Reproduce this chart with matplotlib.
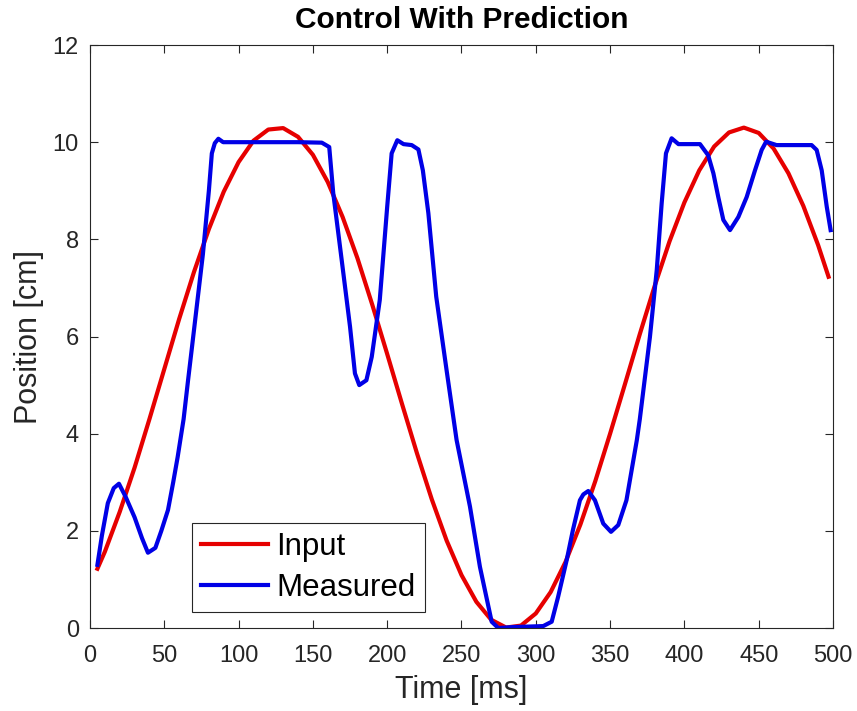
import numpy as np
import matplotlib
matplotlib.use('Agg')
from matplotlib import pyplot as plt

plt.rcParams['font.family'] = ['Liberation Sans', 'DejaVu Sans']

# Input (reference) trajectory
t_input = [5, 10, 20, 30, 40, 50, 60, 70, 80, 90, 100, 110, 120, 130, 140,
           150, 160, 170, 180, 190, 200, 210, 220, 230, 240, 250, 260, 270,
           280, 290, 300, 310, 320, 330, 340, 350, 360, 370, 380, 390, 400,
           410, 420, 430, 440, 450, 460, 470, 480, 490, 497]
y_input = [1.22, 1.57, 2.39, 3.30, 4.30, 5.33, 6.36, 7.33, 8.21, 8.98, 9.59,
           10.03, 10.26, 10.29, 10.11, 9.74, 9.18, 8.46, 7.61, 6.65, 5.64,
           4.61, 3.60, 2.65, 1.80, 1.09, 0.54, 0.17, 0.01, 0.05, 0.30, 0.74,
           1.36, 2.13, 3.02, 4.00, 5.02, 6.05, 7.04, 7.96, 8.76, 9.42, 9.91,
           10.20, 10.30, 10.19, 9.87, 9.36, 8.69, 7.88, 7.23]

# Measured position
t_meas = [5, 8, 12, 16, 19.5, 24, 30, 35, 39, 44, 48, 52.5, 56, 59, 63, 66,
          68.4, 76, 80, 82, 84, 86.4, 89.6, 100, 120, 140, 156, 161, 163.7,
          169.4, 175, 178.3, 181.2, 186, 189.6, 195, 200, 203, 206.8, 211,
          216.5, 221, 224, 227.7, 233, 240, 246.7, 255.7, 262.4, 270.3,
          274.8, 285, 295, 305, 310.7, 315, 320.8, 325, 329.7, 332, 335.3,
          339.8, 345.4, 350.6, 355.5, 361, 368, 370, 376.8, 381.4, 384.7,
          387.6, 391.4, 396, 410.5, 416, 419.5, 422.8, 426.2, 430.7, 436.3,
          441.9, 447.5, 452, 455, 462, 485.6, 489, 492.4, 495.8, 498.4]
y_meas = [1.3, 1.9, 2.57, 2.88, 2.97, 2.7, 2.28, 1.85, 1.55, 1.65, 2.0, 2.43,
          3.0, 3.52, 4.3, 5.1, 5.72, 7.7, 9.0, 9.77, 9.98, 10.07, 10.0, 10.0,
          10.0, 10.0, 9.99, 9.9, 8.95, 7.57, 6.2, 5.24, 5.0, 5.1, 5.58, 6.75,
          8.67, 9.77, 10.04, 9.96, 9.94, 9.85, 9.42, 8.54, 6.82, 5.3, 3.87,
          2.5, 1.26, 0.13, 0.0, 0.02, 0.03, 0.04, 0.13, 0.64, 1.4, 2.02,
          2.63, 2.75, 2.82, 2.63, 2.15, 1.98, 2.12, 2.63, 3.87, 4.3, 5.99,
          7.37, 8.74, 9.77, 10.08, 9.96, 9.96, 9.73, 9.36, 8.87, 8.4, 8.19,
          8.46, 8.87, 9.42, 9.84, 10.01, 9.94, 9.94, 9.84, 9.42, 8.67, 8.19]

fig = plt.figure(figsize=(8.57, 7.11), dpi=100)
ax = fig.add_axes([0.105, 0.1167, 0.867, 0.82])

ax.plot(t_input, y_input, color='#e60000', lw=3, label='Input',
        solid_joinstyle='round')
ax.plot(t_meas, y_meas, color='#0000e6', lw=3, label='Measured',
        solid_joinstyle='round')

ax.set_xlim(0, 500)
ax.set_ylim(0, 12)
ax.set_xticks(np.arange(0, 501, 50))
ax.set_yticks(np.arange(0, 13, 2))
ax.tick_params(direction='in', top=True, right=True, length=6, width=0.8,
               labelsize=17, colors='#262626', pad=8)
ax.tick_params(axis='x', pad=12)
for s in ax.spines.values():
    s.set_color('#262626')
    s.set_linewidth(0.8)

ax.set_xlabel('Time [ms]', fontsize=22, color='#262626', labelpad=6)
ax.set_ylabel('Position [cm]', fontsize=22, color='#262626', labelpad=6)
ax.set_title('Control With Prediction', fontsize=21.5, fontweight='bold',
             pad=12)

leg = ax.legend(loc='lower left', bbox_to_anchor=(0.137, 0.027),
                borderaxespad=0, fontsize=22.5, fancybox=False,
                edgecolor='#262626', framealpha=1, handlelength=2.15,
                handletextpad=0.25, borderpad=0.3, labelspacing=0.35)
leg.get_frame().set_linewidth(0.8)

fig.savefig('out.png', dpi=100)
